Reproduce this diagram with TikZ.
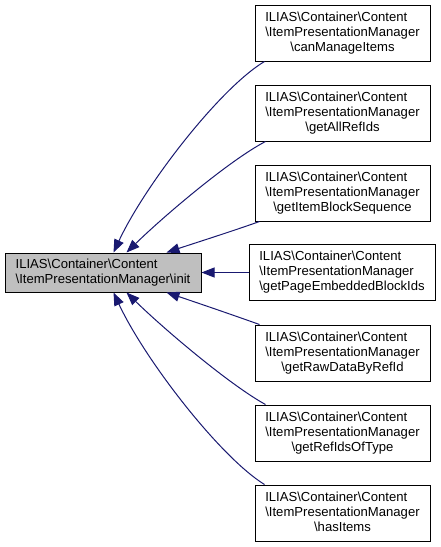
\documentclass[tikz,border=0pt]{standalone}
\usepackage{fontspec}
\setmainfont{Liberation Sans}
\usetikzlibrary{arrows.meta}
\definecolor{edgeblue}{HTML}{191970}
\definecolor{mainfill}{HTML}{BFBFBF}
\newcommand{\bs}{\textbackslash}
\newcommand{\threelbl}[1]{\begin{tabular}{@{}l@{}}ILIAS\bs Container\bs Content\\\bs ItemPresentationManager\\\multicolumn{1}{@{}c@{}}{\bs #1}\end{tabular}}
\tikzset{
  fnbox/.style={draw=black, line width=1pt, fill=white, inner sep=0pt, minimum width=175pt, minimum height=56pt, font=\fontsize{13.1}{15}\selectfont},
  mainbox/.style={draw=black, line width=1pt, fill=mainfill, inner sep=0pt, minimum width=196pt, minimum height=39pt, font=\fontsize{13.1}{15}\selectfont},
  edge/.style={draw=edgeblue, line width=1pt, -{Triangle[length=13pt,width=10pt]}, color=edgeblue}
}
\begin{document}
\begin{tikzpicture}[x=1pt,y=-1pt]
\useasboundingbox (0,0) rectangle (441,547);
\node[mainbox] (main) at (103,272.5) {\begin{tabular}{@{}l@{}}ILIAS\bs Container\bs Content\\\multicolumn{1}{@{}c@{}}{\bs ItemPresentationManager\bs init}\end{tabular}};
\node[fnbox] (b1) at (342.5,33) {\threelbl{canManageItems}};
\node[fnbox] (b2) at (342.5,113) {\threelbl{getAllRefIds}};
\node[fnbox] (b3) at (342.5,193) {\threelbl{getItemBlockSequence}};
\node[fnbox, minimum width=186pt] (b4) at (342,272.5) {\threelbl{getPageEmbeddedBlockIds}};
\node[fnbox] (b5) at (342.5,353) {\threelbl{getRawDataByRefId}};
\node[fnbox] (b6) at (342.5,433) {\threelbl{getRefIdsOfType}};
\node[fnbox] (b7) at (342.5,513) {\threelbl{hasItems}};
\draw[edge] ([xshift=10pt]b1.south west) .. controls (220,88) and (145,185) .. ([xshift=109pt]main.north west);
\draw[edge] ([xshift=11pt]b2.south west) .. controls (230,160) and (165,215) .. ([xshift=122pt]main.north west);
\draw[edge] ([xshift=5pt]b3.south west) .. controls (230,232) and (195,243) .. ([xshift=162pt]main.north west);
\draw[edge] (b4.west) -- (main.east);
\draw[edge] ([xshift=5pt]b5.north west) .. controls (230,314) and (195,302) .. ([xshift=162pt]main.south west);
\draw[edge] ([xshift=11pt]b6.north west) .. controls (230,385) and (165,330) .. ([xshift=122pt]main.south west);
\draw[edge] ([xshift=10pt]b7.north west) .. controls (220,457) and (145,360) .. ([xshift=109pt]main.south west);
\end{tikzpicture}
\end{document}
